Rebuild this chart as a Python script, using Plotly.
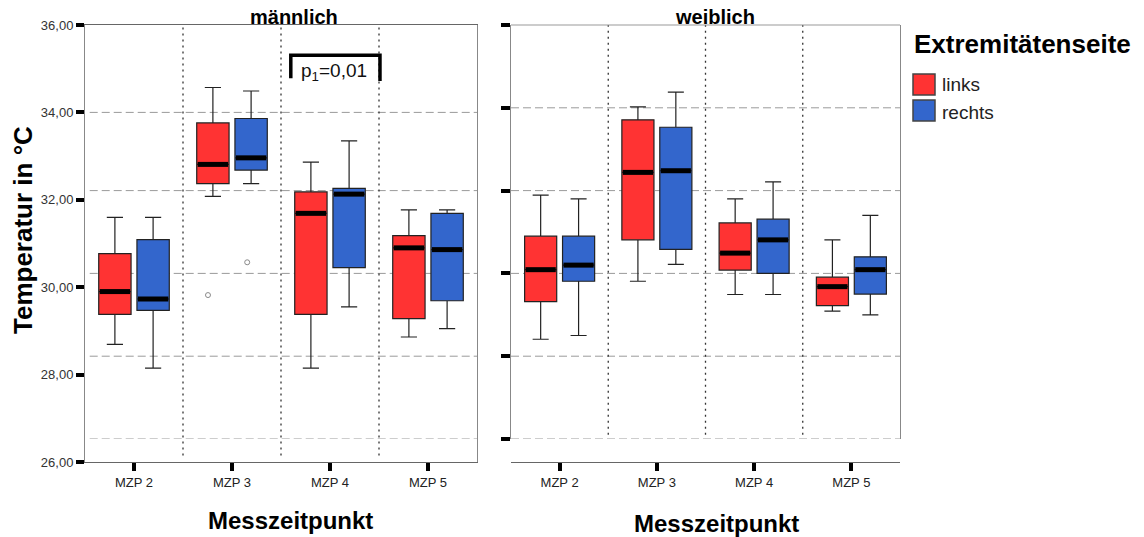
import plotly.graph_objects as go

# ---------------------------------------------------------------- data
time_points = ["MZP 2", "MZP 3", "MZP 4", "MZP 5"]
y_ticks = [26, 28, 30, 32, 34, 36]
y_tick_labels = ["26,00", "28,00", "30,00", "32,00", "34,00", "36,00"]

# männlich, links
m_links_low = [28.69, 32.08, 28.15, 28.86]
m_links_q1 = [29.38, 32.37, 29.38, 29.28]
m_links_med = [29.90, 32.81, 31.69, 30.90]
m_links_q3 = [30.77, 33.76, 32.18, 31.18]
m_links_high = [31.60, 34.57, 32.86, 31.77]
# männlich, rechts
m_rechts_low = [28.15, 32.37, 29.55, 29.05]
m_rechts_q1 = [29.47, 32.68, 30.45, 29.69]
m_rechts_med = [29.73, 32.96, 32.13, 30.86]
m_rechts_q3 = [31.09, 33.86, 32.26, 31.69]
m_rechts_high = [31.60, 34.49, 33.35, 31.77]
# weiblich, links
w_links_low = [28.41, 29.81, 29.49, 29.09]
w_links_q1 = [29.32, 30.81, 30.08, 29.22]
w_links_med = [30.09, 32.44, 30.49, 29.68]
w_links_q3 = [30.90, 33.71, 31.22, 29.91]
w_links_high = [31.89, 34.02, 31.80, 30.81]
# weiblich, rechts
w_rechts_low = [28.50, 30.22, 29.49, 29.00]
w_rechts_q1 = [29.81, 30.58, 30.00, 29.50]
w_rechts_med = [30.20, 32.48, 30.81, 30.09]
w_rechts_q3 = [30.90, 33.53, 31.31, 30.40]
w_rechts_high = [31.80, 34.38, 32.21, 31.40]

# outliers (männlich, MZP 3)
m_links_out_idx = [1]
m_links_out_val = [29.82]
m_rechts_out_idx = [1]
m_rechts_out_val = [30.57]

# reference levels shown as dashed guide lines
left_guides = [34]
shared_guides = [26, 28, 30, 32]
right_guides = [26, 28, 30, 32, 34]

# ---------------------------------------------------------------- layout helpers
W, H = 1144, 537
ML, MR, MT, MB = 85, 244, 25, 75
PW, PH = W - ML - MR, H - MT - MB


def px(x):
    return (x - ML) / PW


def py(y):
    return (H - MB - y) / PH


RED = "#FF3333"
BLUE = "#3366CC"
FONT = "Arial, Liberation Sans, sans-serif"
OFFSET = 0.195
BOX_W = 0.33

fig = go.Figure()


def add_group(xa, ya, low, q1, med, q3, high, offset, color):
    pos = [i + offset for i in range(len(time_points))]
    fig.add_trace(go.Box(
        x=pos, q1=q1, median=med, q3=q3, lowerfence=low, upperfence=high,
        width=BOX_W, whiskerwidth=0.5, fillcolor=color,
        line=dict(color="#222222", width=1.2), boxpoints=False,
        xaxis=xa, yaxis=ya, showlegend=False, hoverinfo="skip",
    ))
    mx, my = [], []
    for p, m in zip(pos, med):
        mx += [p - BOX_W / 2 + 0.01, p + BOX_W / 2 - 0.01, None]
        my += [m, m, None]
    fig.add_trace(go.Scatter(
        x=mx, y=my, mode="lines", line=dict(color="black", width=5),
        xaxis=xa, yaxis=ya, showlegend=False, hoverinfo="skip",
    ))


add_group("x", "y", m_links_low, m_links_q1, m_links_med, m_links_q3, m_links_high, -OFFSET, RED)
add_group("x", "y", m_rechts_low, m_rechts_q1, m_rechts_med, m_rechts_q3, m_rechts_high, OFFSET, BLUE)
add_group("x2", "y2", w_links_low, w_links_q1, w_links_med, w_links_q3, w_links_high, -OFFSET, RED)
add_group("x2", "y2", w_rechts_low, w_rechts_q1, w_rechts_med, w_rechts_q3, w_rechts_high, OFFSET, BLUE)

# outlier symbols
fig.add_trace(go.Scatter(
    x=[i - OFFSET - 0.05 for i in m_links_out_idx] + [i + OFFSET - 0.04 for i in m_rechts_out_idx],
    y=m_links_out_val + m_rechts_out_val,
    mode="markers", marker=dict(symbol="circle-open", size=5, color="#8a8a8a", line=dict(width=1)),
    xaxis="x", yaxis="y", showlegend=False, hoverinfo="skip",
))

shapes = []
GRID = dict(color="#9a9a9a", width=1, dash="8px,4px")
for g in left_guides:
    shapes.append(dict(type="line", xref="x domain", yref="y", x0=0.012, x1=1, y0=g, y1=g, line=GRID, layer="below"))
for g in shared_guides:
    shapes.append(dict(type="line", xref="x domain", yref="y2", x0=0.012, x1=1, y0=g, y1=g, line=GRID, layer="below"))
for g in right_guides:
    shapes.append(dict(type="line", xref="x2 domain", yref="y2", x0=0, x1=1, y0=g, y1=g, line=GRID, layer="below"))
# top border of the right panel
shapes.append(dict(type="line", xref="x2 domain", yref="y2 domain", x0=0, x1=1, y0=1, y1=1,
                   line=dict(color="#999999", width=1)))

# dotted separators between time points
DOT = dict(color="#333333", width=1.3, dash="2px,4px")
for b in [0.5, 1.5, 2.5]:
    shapes.append(dict(type="line", xref="x", yref="y domain", x0=b, x1=b, y0=0.015, y1=1, line=DOT, layer="below"))
    shapes.append(dict(type="line", xref="x2", yref="y2 domain", x0=b, x1=b, y0=0.01, y1=1, line=DOT, layer="below"))

# significance bracket over MZP 4 (männlich)
shapes.append(dict(type="path", xref="x", yref="y",
                   path="M 1.6,34.78 L 1.6,35.31 L 2.51,35.31 L 2.51,34.72",
                   line=dict(color="black", width=3.5)))

# legend swatches
shapes.append(dict(type="rect", xref="paper", yref="paper", x0=px(913), x1=px(935), y0=py(95), y1=py(74),
                   fillcolor=RED, line=dict(color="#444444", width=1.5)))
shapes.append(dict(type="rect", xref="paper", yref="paper", x0=px(913), x1=px(935), y0=py(121), y1=py(100),
                   fillcolor=BLUE, line=dict(color="#444444", width=1.5)))


def label(text, x, y, size, color="black", xanchor="center", angle=0, xref="paper", yref="paper"):
    return dict(text=text, xref=xref, yref=yref, x=x, y=y, showarrow=False,
                xanchor=xanchor, yanchor="middle", textangle=angle,
                font=dict(family=FONT, size=size, color=color))


annotations = [
    label("p<sub>1</sub>=0,01", 2.04, 34.93, 19, "#111111", xref="x", yref="y"),
    label("<b>männlich</b>", px(294), py(17), 20),
    label("<b>weiblich</b>", px(715), py(17), 20),
    label("<b>Temperatur in °C</b>", px(23), py(230), 26, angle=-90),
    label("<b>Messzeitpunkt</b>", px(290), py(520), 24),
    label("<b>Messzeitpunkt</b>", px(716), py(523), 24),
    label("<b>Extremitätenseite</b>", px(912), py(44), 26, xanchor="left"),
    label("links", px(940), py(84), 19, "#222222", xanchor="left"),
    label("rechts", px(940), py(112), 19, "#222222", xanchor="left"),
]

TICKFONT = dict(family=FONT, size=13, color="#222222")
common_x = dict(range=[-0.5, 3.5], tickvals=[0, 1, 2, 3], ticktext=time_points, ticks="outside",
                ticklen=8, tickwidth=4, tickcolor="black", showgrid=False, zeroline=False,
                showline=True, linecolor="#666666", linewidth=1, tickfont=TICKFONT, fixedrange=True)

fig.update_layout(
    width=W, height=H,
    margin=dict(l=ML, r=MR, t=MT, b=MB),
    paper_bgcolor="white", plot_bgcolor="white",
    showlegend=False, boxmode="overlay",
    xaxis=dict(domain=[0, px(477)], anchor="y", mirror=True, **common_x),
    yaxis=dict(domain=[0, 1], range=[26, 36], anchor="x", tickvals=y_ticks, ticktext=y_tick_labels,
               ticks="outside", ticklen=8, tickwidth=4, tickcolor="black", showgrid=False, zeroline=False,
               showline=True, mirror=True, linecolor="#888888", linewidth=1,
               tickfont=dict(family=FONT, size=13, color="#333333"), fixedrange=True),
    xaxis2=dict(domain=[px(511), 1], anchor="free", position=0, **common_x),
    yaxis2=dict(domain=[py(439), 1], range=[26, 36], anchor="x2", tickvals=y_ticks,
                showticklabels=False, ticks="outside", ticklen=9, tickwidth=4, tickcolor="black",
                showgrid=False, zeroline=False, showline=True, mirror=True, linecolor="#888888",
                linewidth=1, fixedrange=True),
    shapes=shapes,
    annotations=annotations,
)

fig.write_html("out.html")
